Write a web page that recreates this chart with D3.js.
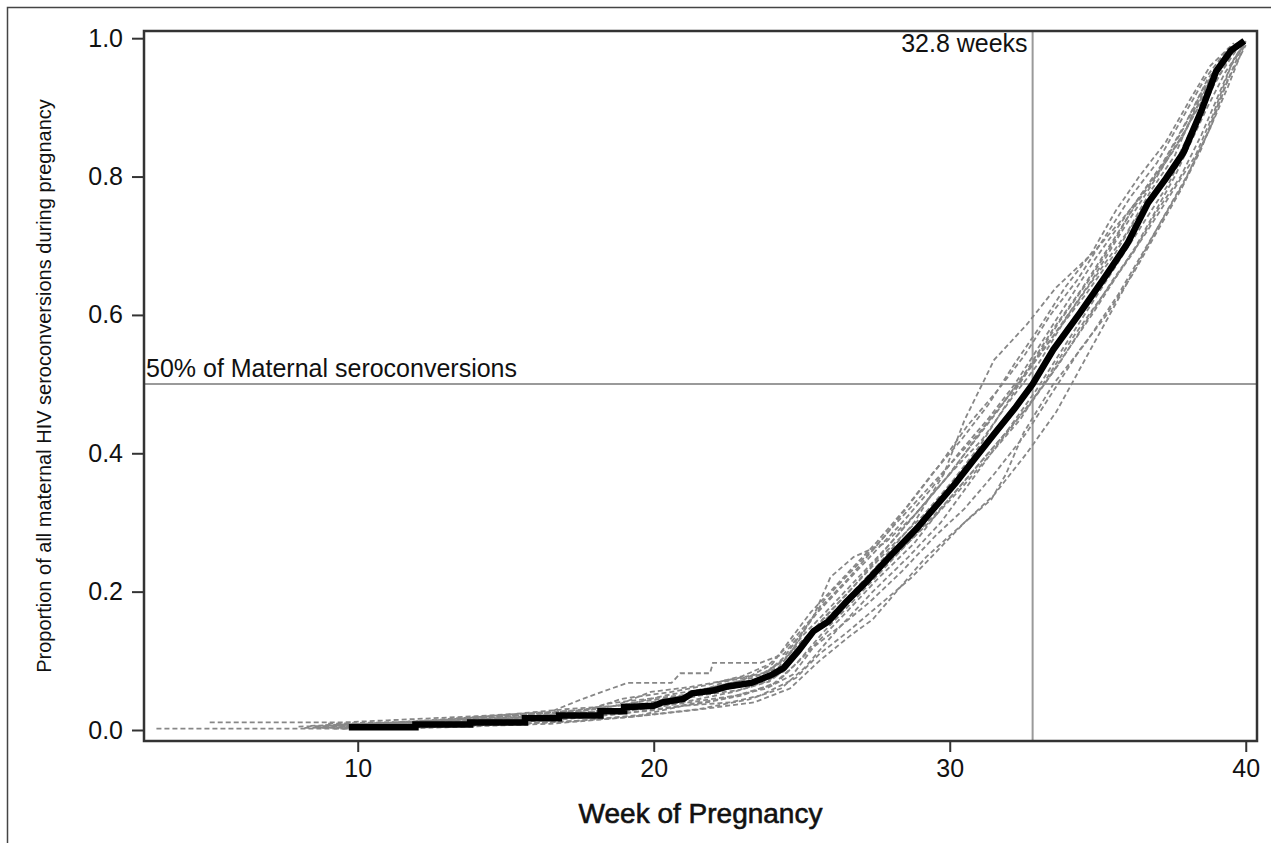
<!DOCTYPE html>
<html>
<head>
<meta charset="utf-8">
<script src="https://cdn.jsdelivr.net/npm/d3@7"></script>
<style>
  html, body { margin: 0; padding: 0; background: #fff; }
  svg text { font-family: "Liberation Sans", Arial, Helvetica, sans-serif; fill: #111; }
</style>
</head>
<body>
<svg id="chart" width="1271" height="843"></svg>
<script>
// ---------------- DATA ----------------
const xTicks = [10, 20, 30, 40];
const yTicks = [0.0, 0.2, 0.4, 0.6, 0.8, 1.0];
const medianWeek = 32.8;
const halfLevel = 0.5;
const xLabel = "Week of Pregnancy";
const yLabel = "Proportion of all maternal HIV seroconversions during pregnancy";
const hLabel = "50% of Maternal seroconversions";
const vLabel = "32.8 weeks";

// observed cumulative proportion (week, proportion), steps at the low end
const observed = [
  [9.7,0.004],[11.95,0.004],[11.95,0.008],[13.8,0.008],[13.8,0.011],[15.65,0.011],
  [15.65,0.017],[16.8,0.017],[16.8,0.021],[18.2,0.021],[18.2,0.027],[19.0,0.027],
  [19.0,0.033],[20.0,0.035],[20.3,0.04],[21.0,0.045],[21.3,0.053],[22.0,0.057],
  [22.5,0.063],[23.3,0.068],[24.0,0.08],[24.4,0.09],[24.9,0.115],[25.4,0.143],
  [25.9,0.157],[26.5,0.185],[27.2,0.215],[28.0,0.252],[28.9,0.292],[29.5,0.322],
  [30.2,0.357],[30.8,0.39],[31.5,0.428],[32.2,0.465],[32.8,0.5],[33.5,0.55],
  [34.4,0.603],[35.2,0.652],[36.0,0.703],[36.7,0.762],[37.3,0.797],[37.9,0.835],
  [38.5,0.895],[39.0,0.952],[39.5,0.982],[39.95,0.996]
];

// replicate curves (week, proportion)
const rep01 = [[3.2,0.002],[11.5,0.002],[13,0.004],[16.5,0.009],[19,0.018],[21.5,0.03],[23.2,0.044],[24.3,0.06],[25.1,0.09],[26.2,0.145],[27.4,0.2],[28.6,0.25],[29.7,0.3],[31.4,0.4],[33.2,0.5],[34.8,0.6],[36.3,0.7],[37.6,0.8],[38.7,0.9],[39.3,0.95],[40.0,0.995]];
const rep02 = [[5.0,0.011],[9.5,0.011],[11,0.014],[14,0.02],[16.5,0.026],[17.6,0.045],[19.1,0.068],[20.6,0.068],[20.9,0.082],[21.9,0.082],[22.0,0.097],[23.6,0.097],[24.4,0.11],[25.0,0.14],[25.7,0.18],[26.6,0.22],[28,0.29],[29.5,0.36],[31,0.43],[32.3,0.5],[33.5,0.57],[34.8,0.65],[35.8,0.72],[37,0.8],[38,0.87],[38.8,0.94],[39.7,0.99]];
const rep03 = [[8.4,0.006],[10.2,0.008],[12.5,0.012],[15,0.018],[17.5,0.024],[19.6,0.034],[21.3,0.05],[23.2,0.065],[24.3,0.09],[25.2,0.135],[26.3,0.18],[27.5,0.235],[28.8,0.3],[29.8,0.37],[30.5,0.448],[31.5,0.535],[32.6,0.586],[33.6,0.64],[34.85,0.69],[35.9,0.742],[36.8,0.79],[37.6,0.84],[38.4,0.9],[39.1,0.955],[39.8,0.993]];
const rep04 = [[8.6,0.004],[11,0.006],[13.5,0.012],[16,0.02],[18.8,0.03],[20.5,0.045],[22.2,0.06],[23.6,0.075],[24.6,0.11],[25.4,0.165],[25.97,0.221],[26.75,0.25],[27.8,0.27],[28.8,0.31],[30,0.37],[31.2,0.44],[32.5,0.51],[33.6,0.575],[34.6,0.63],[35.6,0.69],[36.6,0.76],[37.5,0.81],[38.3,0.88],[39,0.94],[39.9,0.996]];
const rep05 = [[9.2,0.002],[12,0.004],[14.5,0.007],[17,0.012],[19.5,0.02],[21.6,0.03],[23.4,0.04],[24.6,0.06],[25.6,0.1],[26.6,0.135],[27.4,0.16],[28.4,0.21],[29.2,0.25],[30.5,0.3],[31.4,0.333],[31.9,0.37],[32.5,0.43],[33.5,0.5],[34.6,0.56],[35.7,0.63],[36.8,0.71],[37.9,0.79],[38.8,0.87],[39.4,0.94],[40,0.99]];
const rep06 = [[9.3,0.008],[11.5,0.01],[13.6,0.016],[15.8,0.022],[17.6,0.027],[18.4,0.038],[19.8,0.045],[21.4,0.052],[22.4,0.07],[23.6,0.08],[24.4,0.1],[25,0.135],[25.8,0.17],[26.9,0.22],[28.0,0.27],[29.0,0.32],[30.0,0.37],[31.1,0.42],[32.1,0.48],[33.0,0.53],[34.0,0.6],[35.0,0.66],[36.0,0.72],[36.8,0.78],[37.6,0.83],[38.3,0.9],[38.9,0.95],[39.8,0.995]];
const rep07 = [[9.9,0.003],[12.6,0.006],[14.6,0.01],[16.8,0.015],[18.6,0.022],[20.6,0.033],[22.3,0.045],[23.8,0.06],[24.7,0.08],[25.4,0.12],[26.3,0.15],[27.3,0.185],[28.4,0.23],[29.5,0.28],[30.5,0.32],[31.5,0.37],[32.6,0.43],[33.5,0.49],[34.4,0.55],[35.3,0.6],[36.2,0.66],[37.0,0.72],[37.8,0.78],[38.5,0.84],[39.2,0.92],[39.9,0.99]];
const rep08 = [[8.0,0.005],[10.5,0.007],[12.8,0.013],[15.2,0.02],[17.2,0.028],[19.0,0.036],[20.4,0.05],[21.8,0.06],[23.0,0.072],[24.0,0.095],[24.6,0.13],[25.3,0.17],[26.4,0.22],[27.5,0.27],[28.5,0.32],[29.4,0.37],[30.4,0.42],[31.3,0.47],[32.2,0.53],[33.0,0.58],[33.9,0.64],[34.8,0.69],[35.6,0.75],[36.4,0.8],[37.3,0.85],[38.1,0.91],[38.8,0.96],[39.6,0.993]];
const rep09 = [[9.6,0.004],[12.2,0.007],[14.2,0.013],[16.3,0.018],[18.2,0.024],[19.8,0.032],[21.2,0.042],[22.7,0.055],[23.9,0.07],[24.5,0.09],[25.1,0.13],[25.9,0.16],[26.9,0.2],[28.1,0.25],[29.3,0.3],[30.4,0.35],[31.4,0.4],[32.4,0.45],[33.3,0.51],[34.2,0.57],[35.2,0.63],[36.2,0.69],[37.0,0.75],[37.8,0.8],[38.5,0.86],[39.1,0.92],[39.6,0.97],[40.0,0.996]];
const rep10 = [[8.8,0.003],[11.3,0.005],[13.3,0.009],[15.4,0.013],[17.8,0.02],[19.9,0.028],[21.8,0.04],[23.0,0.05],[24.2,0.07],[24.9,0.1],[25.7,0.14],[26.6,0.18],[27.7,0.23],[28.8,0.28],[29.9,0.33],[30.9,0.38],[31.9,0.43],[32.9,0.49],[33.8,0.55],[34.7,0.61],[35.6,0.67],[36.5,0.73],[37.4,0.79],[38.2,0.86],[38.9,0.93],[39.7,0.99]];
const rep11 = [[9.0,0.009],[11.8,0.012],[13.7,0.018],[16.2,0.024],[17.9,0.03],[18.9,0.045],[20.6,0.055],[21.8,0.065],[23.0,0.078],[23.9,0.095],[24.5,0.12],[25.2,0.155],[26.2,0.2],[27.3,0.25],[28.4,0.3],[29.4,0.35],[30.3,0.4],[31.3,0.45],[32.2,0.5],[33.1,0.56],[34.0,0.62],[34.9,0.68],[35.9,0.74],[36.9,0.8],[37.9,0.86],[38.7,0.93],[39.5,0.985]];
const rep12 = [[9.5,0.002],[12.4,0.004],[14.8,0.008],[17.4,0.013],[19.6,0.022],[21.0,0.035],[22.6,0.04],[23.6,0.05],[24.8,0.075],[25.6,0.11],[26.5,0.14],[27.6,0.18],[28.7,0.22],[29.6,0.26],[30.5,0.3],[31.5,0.34],[32.6,0.4],[33.6,0.46],[34.5,0.53],[35.4,0.6],[36.3,0.67],[37.2,0.74],[38.0,0.8],[38.8,0.87],[39.4,0.93],[39.95,0.99]];
const rep13 = [[9.8,0.006],[12.0,0.01],[14.0,0.014],[16.0,0.02],[18.0,0.03],[19.4,0.04],[20.8,0.048],[22.0,0.062],[23.3,0.075],[24.2,0.09],[24.8,0.12],[25.5,0.15],[26.6,0.2],[27.8,0.26],[28.8,0.31],[29.8,0.36],[30.7,0.41],[31.6,0.46],[32.6,0.52],[33.5,0.58],[34.5,0.64],[35.4,0.7],[36.3,0.76],[37.1,0.81],[37.9,0.87],[38.6,0.93],[39.3,0.97],[39.9,0.997]];
const rep14 = [[8.2,0.003],[10.8,0.005],[13.2,0.01],[15.6,0.016],[17.4,0.021],[19.2,0.028],[20.9,0.038],[22.8,0.05],[24.0,0.065],[24.8,0.095],[25.6,0.13],[26.5,0.17],[27.6,0.22],[28.8,0.27],[29.7,0.32],[30.7,0.37],[31.7,0.42],[32.7,0.47],[33.7,0.53],[34.6,0.59],[35.5,0.65],[36.5,0.71],[37.4,0.77],[38.3,0.83],[38.9,0.89],[39.5,0.96],[40.0,0.995]];
const rep15 = [[9.4,0.005],[11.6,0.008],[14.3,0.012],[16.6,0.019],[18.4,0.026],[20.1,0.038],[21.6,0.05],[22.9,0.058],[23.8,0.07],[24.4,0.085],[25.0,0.12],[25.7,0.16],[26.7,0.205],[27.9,0.26],[29.1,0.31],[30.1,0.36],[31.0,0.41],[31.9,0.47],[32.8,0.53],[33.7,0.59],[34.7,0.65],[35.6,0.71],[36.4,0.77],[37.2,0.82],[38.0,0.88],[38.7,0.94],[39.4,0.98],[39.9,0.995]];
const rep16 = [[8.9,0.007],[11.2,0.011],[13.0,0.015],[15.0,0.022],[17.0,0.03],[18.7,0.035],[19.9,0.055],[21.2,0.062],[22.6,0.073],[23.8,0.083],[24.4,0.105],[25.0,0.14],[25.8,0.19],[26.8,0.235],[27.8,0.28],[28.7,0.33],[29.6,0.38],[30.6,0.44],[31.6,0.49],[32.5,0.54],[33.4,0.6],[34.3,0.65],[35.2,0.71],[36.1,0.77],[37.0,0.82],[37.8,0.88],[38.6,0.94],[39.4,0.985],[39.9,0.997]];
const replicates = [rep01, rep02, rep03, rep04, rep05, rep06, rep07, rep08,
                    rep09, rep10, rep11, rep12, rep13, rep14, rep15, rep16];

// ---------------- DRAW ----------------
const svg = d3.select("#chart");
const plot = { left: 144, right: 1257, top: 31, bottom: 741 };

const x = d3.scaleLinear().domain([2.78, 40.38]).range([plot.left, plot.right]);
const y = d3.scaleLinear().domain([-0.0159, 1.0104]).range([plot.bottom, plot.top]);

// outer frame
svg.append("rect")
  .attr("x", 7.5).attr("y", 7.5).attr("width", 1300).attr("height", 900)
  .attr("fill", "none").attr("stroke", "#444").attr("stroke-width", 1.5);

svg.append("clipPath").attr("id", "clip")
  .append("rect").attr("x", plot.left).attr("y", plot.top)
  .attr("width", plot.right - plot.left).attr("height", plot.bottom - plot.top);

const g = svg.append("g").attr("clip-path", "url(#clip)");

const line = d3.line().x(d => x(d[0])).y(d => y(d[1]));

// reference lines
g.append("line")
  .attr("x1", plot.left).attr("x2", plot.right)
  .attr("y1", y(halfLevel)).attr("y2", y(halfLevel))
  .attr("stroke", "#9a9a9a").attr("stroke-width", 2);
g.append("line")
  .attr("x1", x(medianWeek)).attr("x2", x(medianWeek))
  .attr("y1", plot.top).attr("y2", plot.bottom)
  .attr("stroke", "#9a9a9a").attr("stroke-width", 2);

// replicate curves
g.selectAll("path.rep").data(replicates).join("path")
  .attr("class", "rep")
  .attr("d", line)
  .attr("fill", "none")
  .attr("stroke", "#878787")
  .attr("stroke-width", 1.8)
  .attr("stroke-dasharray", "5,3");

// observed curve
g.append("path").datum(observed)
  .attr("d", line)
  .attr("fill", "none")
  .attr("stroke", "#000")
  .attr("stroke-width", 6.5)
  .attr("stroke-linejoin", "miter");

// plot frame
svg.append("rect")
  .attr("x", plot.left).attr("y", plot.top)
  .attr("width", plot.right - plot.left).attr("height", plot.bottom - plot.top)
  .attr("fill", "none").attr("stroke", "#333").attr("stroke-width", 2.5);

// axes
const xAxis = d3.axisBottom(x).tickValues(xTicks).tickSize(11).tickPadding(7).tickFormat(d3.format("d"));
const yAxis = d3.axisLeft(y).tickValues(yTicks).tickSize(12).tickPadding(9).tickFormat(d3.format(".1f"));

const gx = svg.append("g").attr("transform", `translate(0,${plot.bottom})`).call(xAxis);
const gy = svg.append("g").attr("transform", `translate(${plot.left},0)`).call(yAxis);
[gx, gy].forEach(a => {
  a.select(".domain").remove();
  a.selectAll(".tick line").attr("stroke", "#333").attr("stroke-width", 2);
  a.selectAll(".tick text").attr("font-size", 25).attr("fill", "#111");
});

// annotation labels
svg.append("text")
  .attr("x", plot.left + 2).attr("y", y(halfLevel) - 7)
  .attr("font-size", 25).text(hLabel);
svg.append("text")
  .attr("x", x(medianWeek) - 5).attr("y", plot.top + 21)
  .attr("text-anchor", "end").attr("font-size", 25).text(vLabel);

// axis titles
svg.append("text")
  .attr("x", (plot.left + plot.right) / 2).attr("y", 823)
  .attr("text-anchor", "middle").attr("font-size", 28)
  .attr("stroke", "#111").attr("stroke-width", 0.6).text(xLabel);
svg.append("text")
  .attr("transform", `translate(51,${(plot.top + plot.bottom) / 2}) rotate(-90)`)
  .attr("text-anchor", "middle").attr("font-size", 20).text(yLabel);
</script>
</body>
</html>
